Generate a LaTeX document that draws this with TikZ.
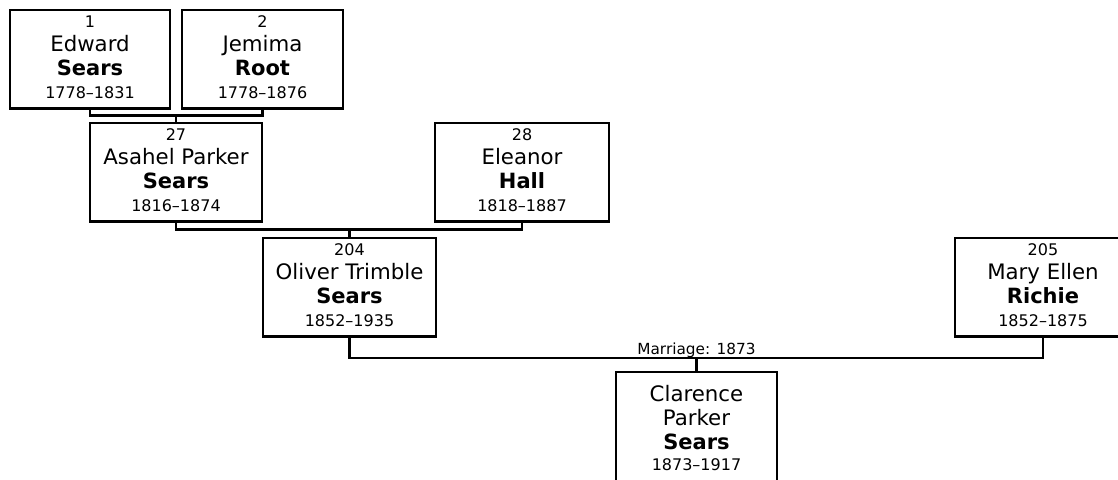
\documentclass[tikz,border=0pt]{standalone}
\usepackage{fontspec}
\setmainfont{DejaVu Sans}
\tikzset{
  pbox/.style={draw, line width=2.3pt, inner sep=0pt, outer sep=0pt, anchor=north, minimum height=98.5pt},
  small/.style={anchor=base, inner sep=0pt, font=\fontsize{16}{18}\selectfont},
  given/.style={anchor=base, inner sep=0pt, font=\fontsize{21.3}{24}\selectfont},
  sur/.style={anchor=base, inner sep=0pt, font=\fontsize{21}{24}\selectfont\bfseries},
  conn/.style={draw, line width=2.3pt},
}
\newcommand\personbox[8]{%
  \node[pbox, minimum width=#4] (#1) at (#2,#3) {};
  \node[small] (#1num) at ([yshift=-17.5pt]#1.north) {#5};
  \node[given] (#1giv) at ([yshift=-41.5pt]#1.north) {#6};
  \node[sur] (#1sur) at ([yshift=-65.5pt]#1.north) {#7};
  \node[small] (#1dat) at ([yshift=-88pt]#1.north) {#8};
}
\begin{document}
\begin{tikzpicture}[x=1pt,y=-1pt]
\useasboundingbox (0,0) rectangle (1118,479);
\clip (0,0) rectangle (1118,479);
\personbox{p1}{90}{10}{160pt}{1}{Edward}{Sears}{1778–1831}
\personbox{p2}{262.5}{10}{161pt}{2}{Jemima}{Root}{1778–1876}
\personbox{p27}{176}{123}{172pt}{27}{Asahel Parker}{Sears}{1816–1874}
\personbox{p28}{522}{123}{174pt}{28}{Eleanor}{Hall}{1818–1887}
\personbox{p204}{349.5}{238}{173pt}{204}{Oliver Trimble}{Sears}{1852–1935}
\personbox{p205}{1043}{238}{176pt}{205}{Mary Ellen}{Richie}{1852–1875}
% Clarence
\node[pbox, minimum width=161pt, minimum height=140pt] (pc) at (696.5,372) {};
\node[given] (pcg1) at ([yshift=-29pt]pc.north) {Clarence};
\node[given] (pcg2) at ([yshift=-53pt]pc.north) {Parker};
\node[sur] (pcsur) at ([yshift=-77pt]pc.north) {Sears};
\node[small] (pcdat) at ([yshift=-98pt]pc.north) {1873–1917};
% connectors
\coordinate (j1) at (176,115.5);
\coordinate (j2) at (349.5,229.5);
\coordinate (j3) at (696.5,358);
\draw[conn] (p1.south) |- (j1) -| (p2.south);
\draw[conn] (j1) -- (p27.north);
\draw[conn] (p27.south) |- (j2) -| (p28.south);
\draw[conn] (j2) -- (p204.north);
\draw[conn] (p204.south) |- (j3) -| (p205.south);
\draw[conn] (j3) -- (pc.north);
\node[small, font=\fontsize{15.3}{18}\selectfont] (mar) at ([yshift=4pt]j3) {Marriage: 1873};
\end{tikzpicture}
\end{document}
